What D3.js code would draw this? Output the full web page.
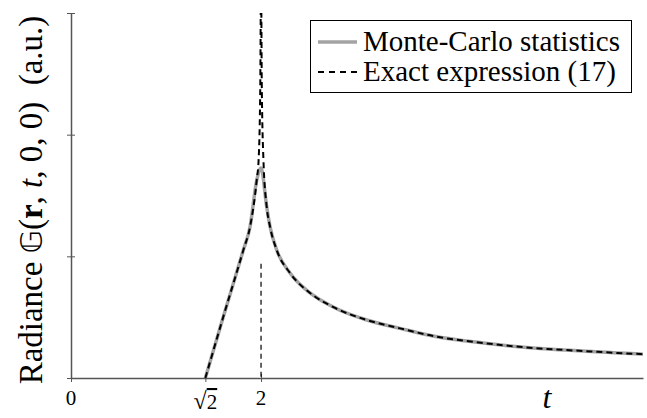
<!DOCTYPE html>
<html>
<head>
<meta charset="utf-8">
<script src="https://cdn.jsdelivr.net/npm/d3@7"></script>
<style>
  body { margin: 0; background: #fff; }
  text { font-family: "Liberation Serif", "DejaVu Serif", serif; }
</style>
</head>
<body>
<script>
// Monte-Carlo curve (t, radiance)
const tMC = [1.414, 1.603, 1.814, 1.884, 1.955, 2.0, 2.06, 2.095, 2.165, 2.305, 2.516, 2.758, 3.113, 3.463, 3.811, 4.337, 4.863, 5.389, 5.989, 6.02]
const vMC = [0, 0.504, 1.052, 1.241, 1.627, 1.726, 1.405, 1.243, 1.052, 0.863, 0.699, 0.584, 0.477, 0.408, 0.345, 0.288, 0.247, 0.222, 0.197, 0.196]

// Exact expression (17), singular at t = 2
const tExact = [1.414, 1.603, 1.814, 1.884, 1.955, 1.975, 1.992, 1.999, 2.001, 2.008, 2.025, 2.06, 2.095, 2.165, 2.305, 2.516, 2.758, 3.113, 3.463, 3.811, 4.337, 4.863, 5.389, 5.989, 6.02]
const vExact = [0, 0.504, 1.052, 1.241, 1.63, 1.80, 2.4, 3.2, 3.2, 2.4, 1.80, 1.405, 1.243, 1.052, 0.863, 0.699, 0.584, 0.477, 0.408, 0.345, 0.288, 0.247, 0.222, 0.197, 0.196]

// drop line at t = 2
const dropT = [2]
const dropV = [0.94]

const xTicks = [0, Math.SQRT2, 2]
const xTickLabels = ['0', 'sqrt2', '2']
const yTicks = [0, 1, 2, 3]

const legendLabels = ['Monte-Carlo statistics', 'Exact expression (17)']

const W = 647, H = 418
const m = { left: 71, right: 4, top: 13, bottom: 40 }

const svg = d3.select('body').append('svg')
  .attr('width', W).attr('height', H)

const x = d3.scaleLinear().domain([0, 6.02]).range([m.left, W - m.right])
const y = d3.scaleLinear().domain([0, 3]).range([H - m.bottom, m.top])

svg.append('defs').append('clipPath').attr('id', 'clip')
  .append('rect')
  .attr('x', m.left).attr('y', m.top)
  .attr('width', W - m.left - m.right).attr('height', H - m.top - m.bottom)

const axisCol = '#555'

// y axis
const yAxis = svg.append('g')
  .attr('transform', `translate(${m.left},0)`)
  .call(d3.axisLeft(y).tickValues(yTicks).tickFormat('').tickSize(4).tickSizeOuter(0))
yAxis.select('.domain').attr('stroke', axisCol).attr('stroke-width', 1.5)
yAxis.selectAll('.tick line').attr('stroke', axisCol).attr('stroke-width', 1).attr('x2', -4).attr('x1', 4)

// x axis
const xAxis = svg.append('g')
  .attr('transform', `translate(0,${y(0)})`)
  .call(d3.axisBottom(x).tickValues(xTicks).tickFormat('').tickSize(4).tickSizeOuter(0))
xAxis.select('.domain').attr('stroke', axisCol).attr('stroke-width', 1.5)
xAxis.selectAll('.tick line').attr('stroke', axisCol).attr('stroke-width', 1).attr('y1', -4).attr('y2', 4)

// x tick labels
xTicks.forEach((v, i) => {
  const t = svg.append('text')
    .attr('x', x(v)).attr('y', y(0) + 27)
    .attr('text-anchor', 'middle')
    .attr('font-size', 21)
  if (xTickLabels[i] === 'sqrt2') {
    t.attr('y', y(0) + 31)
    t.append('tspan').attr('font-size', 24).text('\u221A')
    t.append('tspan').style('text-decoration', 'overline').text('2')
  } else {
    t.text(xTickLabels[i])
  }
})

// x axis title
svg.append('text')
  .attr('x', 547).attr('y', 408)
  .attr('text-anchor', 'middle')
  .attr('font-size', 32).attr('font-style', 'italic')
  .text('t')

// y axis title
const yl = svg.append('text')
  .attr('transform', `translate(42,${(13 + 387) / 2}) rotate(-90)`)
  .attr('text-anchor', 'middle')
  .attr('font-size', 33)
yl.append('tspan').text('Radiance ')
yl.append('tspan').attr('font-family', 'DejaVu Sans').attr('font-size', 30).text('\u{1D53E}')
yl.append('tspan').text('(')
yl.append('tspan').attr('font-weight', 'bold').text('r')
yl.append('tspan').text(', ')
yl.append('tspan').attr('font-style', 'italic').text('t')
yl.append('tspan').text(', 0, 0)\u2002(a.u.)')

const line = d3.line().x(d => x(d[0])).y(d => y(d[1])).curve(d3.curveMonotoneX)

const plot = svg.append('g').attr('clip-path', 'url(#clip)')

// drop line
plot.selectAll('.drop').data(dropT).enter().append('line')
  .attr('class', 'drop')
  .attr('x1', d => x(d)).attr('x2', d => x(d))
  .attr('y1', (d, i) => y(dropV[i])).attr('y2', y(0))
  .attr('stroke', '#000').attr('stroke-width', 1.2)
  .attr('stroke-dasharray', '5,4')

plot.append('path')
  .datum(tMC.map((t, i) => [t, vMC[i]]))
  .attr('d', line)
  .attr('fill', 'none').attr('stroke', '#a3a3a3').attr('stroke-width', 3.5)
  .attr('stroke-linejoin', 'round')

plot.append('path')
  .datum(tExact.map((t, i) => [t, vExact[i]]))
  .attr('d', line)
  .attr('fill', 'none').attr('stroke', '#000').attr('stroke-width', 2)
  .attr('stroke-dasharray', '6,4')

// legend
const lg = svg.append('g')
lg.append('rect')
  .attr('x', 310.5).attr('y', 20.5).attr('width', 321).attr('height', 72)
  .attr('fill', '#fff').attr('stroke', '#000').attr('stroke-width', 1)
const lgStyles = [
  { stroke: '#a3a3a3', width: 3.5, dash: null },
  { stroke: '#000', width: 2, dash: '6,5' }
]
legendLabels.forEach((lab, i) => {
  const yy = 42 + i * 30
  lg.append('line')
    .attr('x1', 318).attr('x2', 357).attr('y1', yy).attr('y2', yy)
    .attr('stroke', lgStyles[i].stroke).attr('stroke-width', lgStyles[i].width)
    .attr('stroke-dasharray', lgStyles[i].dash)
  lg.append('text')
    .attr('x', 363).attr('y', yy + 9)
    .attr('font-size', 29)
    .text(lab)
})
</script>
</body>
</html>
